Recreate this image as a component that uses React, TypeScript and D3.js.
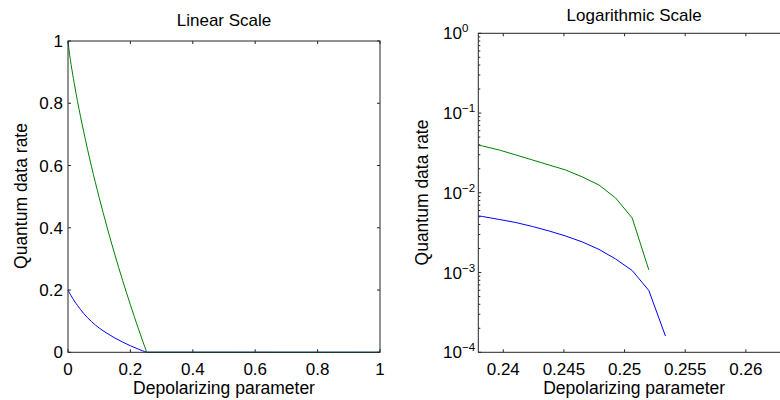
import React from "react";
import * as d3 from "d3";

// Linear-scale panel data
const pLin = [0, 0.005, 0.01, 0.02, 0.03, 0.05, 0.075, 0.1, 0.125, 0.15, 0.175, 0.2, 0.225, 0.2383, 0.2452, 0.25, 0.2524, 0.2534, 1];
const greenLin = [1, 0.958, 0.924, 0.864, 0.809, 0.71, 0.598, 0.497, 0.4025, 0.3143, 0.2311, 0.1525, 0.0776, 0.0394, 0.0198, 0.0068, 0, 0, 0];
const blueLin = [0.2, 0.19, 0.182, 0.165, 0.151, 0.125, 0.099, 0.078, 0.061, 0.046, 0.033, 0.021, 0.0105, 0.00504, 0.00287, 0.0012, 0.0006, 0.00016, 0];

// Logarithmic-scale panel data
const pLog = [0.23693, 0.2383, 0.23967, 0.24104, 0.24241, 0.24378, 0.24515, 0.24652, 0.24789, 0.24926, 0.25063, 0.252, 0.25337];
const greenLog: (number | null)[] = [0.0425, 0.0386, 0.0344, 0.0298, 0.0258, 0.0223, 0.0193, 0.0158, 0.01253, 0.00861, 0.00483, 0.00108, null];
const blueLog: (number | null)[] = [0.0054, 0.00504, 0.00463, 0.00424, 0.00378, 0.00332, 0.00287, 0.00242, 0.00195, 0.00148, 0.00106, 0.000596, 0.00016];

const linTicks = [0, 0.2, 0.4, 0.6, 0.8, 1];
const logXTicks = [0.24, 0.245, 0.25, 0.255, 0.26];
const logYExps = [0, -1, -2, -3, -4];

const GREEN = "#008000";
const BLUE = "#0000ff";
const AXIS = "#262626";
const FONT = "'Liberation Sans', Arial, Helvetica, sans-serif";
const TICK_FS = 17;
const LABEL_FS = 17.5;
const TITLE_FS = 17;

export default function App() {
  // left panel geometry
  const L = { l: 68, r: 380, t: 41, b: 352.3 };
  const xL = d3.scaleLinear().domain([0, 1]).range([L.l, L.r]);
  const yL = d3.scaleLinear().domain([0, 1]).range([L.b, L.t]);

  // right panel geometry
  const R = { l: 478.3, r: 790, t: 33.3, b: 352.3 };
  const xR = d3.scaleLinear().domain([0.23794, 0.26364]).range([R.l, R.r]);
  const yR = d3.scaleLog().domain([1e-4, 1]).range([R.b, R.t]);

  const linLine = (vals: number[]) =>
    d3
      .line<number>()
      .x((_, i) => xL(pLin[i]))
      .y((d) => yL(d))
      .curve(d3.curveMonotoneX)(vals) || "";

  const logLine = (vals: (number | null)[]) =>
    d3
      .line<number | null>()
      .defined((d) => d != null && d > 0)
      .x((_, i) => xR(pLog[i]))
      .y((d) => yR(d as number))(vals) || "";

  const tl = 3;
  const minor: number[] = [];
  for (let e = -4; e < 0; e++) {
    for (let m = 2; m <= 9; m++) minor.push(m * Math.pow(10, e));
  }

  return (
    <svg width={780} height={400} style={{ position: "absolute", left: 0, top: 0, background: "#fff" }} fontFamily={FONT}>
      <rect x={0} y={0} width={780} height={400} fill="#fff" />
      <defs>
        <clipPath id="clipR">
          <rect x={R.l} y={R.t} width={R.r - R.l} height={R.b - R.t} />
        </clipPath>
      </defs>

      {/* ---------- Left panel ---------- */}
      <text x={(L.l + L.r) / 2} y={26} textAnchor="middle" fontSize={TITLE_FS} fill="#000">
        Linear Scale
      </text>
      {linTicks.map((t) => (
        <g key={"lx" + t}>
          <line x1={xL(t)} x2={xL(t)} y1={L.b} y2={L.b - tl} stroke={AXIS} />
          <line x1={xL(t)} x2={xL(t)} y1={L.t} y2={L.t + tl} stroke={AXIS} />
          <text x={xL(t)} y={374.5} textAnchor="middle" fontSize={TICK_FS}>
            {String(t)}
          </text>
          <line y1={yL(t)} y2={yL(t)} x1={L.l} x2={L.l + tl} stroke={AXIS} />
          <line y1={yL(t)} y2={yL(t)} x1={L.r} x2={L.r - tl} stroke={AXIS} />
          <text x={63} y={yL(t) + 6} textAnchor="end" fontSize={TICK_FS}>
            {String(t)}
          </text>
        </g>
      ))}
      <path d={linLine(blueLin)} fill="none" stroke={BLUE} strokeWidth={1} />
      <path d={linLine(greenLin)} fill="none" stroke={GREEN} strokeWidth={1} />
      <rect x={L.l} y={L.t} width={L.r - L.l} height={L.b - L.t} fill="none" stroke={AXIS} strokeWidth={1} />
      <text x={(L.l + L.r) / 2} y={393.5} textAnchor="middle" fontSize={LABEL_FS}>
        Depolarizing parameter
      </text>
      <text transform={`translate(27,196) rotate(-90)`} textAnchor="middle" fontSize={LABEL_FS}>
        Quantum data rate
      </text>

      {/* ---------- Right panel ---------- */}
      <text x={(R.l + R.r) / 2} y={20.7} textAnchor="middle" fontSize={TITLE_FS} fill="#000">
        Logarithmic Scale
      </text>
      {logXTicks.map((t) => (
        <g key={"rx" + t}>
          <line x1={xR(t)} x2={xR(t)} y1={R.b} y2={R.b - tl} stroke={AXIS} />
          <line x1={xR(t)} x2={xR(t)} y1={R.t} y2={R.t + tl} stroke={AXIS} />
          <text x={xR(t)} y={374.5} textAnchor="middle" fontSize={TICK_FS}>
            {String(t)}
          </text>
        </g>
      ))}
      {minor.map((v, i) => (
        <line key={"mn" + i} y1={yR(v)} y2={yR(v)} x1={R.l} x2={R.l + 2} stroke={AXIS} />
      ))}
      {logYExps.map((e) => {
        const y = yR(Math.pow(10, e));
        return (
          <g key={"ry" + e}>
            <line y1={y} y2={y} x1={R.l} x2={R.l + tl} stroke={AXIS} />
            <text x={443} y={y + 6} fontSize={TICK_FS}>
              10
              <tspan dy={-7} fontSize={11.5}>
                {e === 0 ? "0" : "\u2212" + Math.abs(e)}
              </tspan>
            </text>
          </g>
        );
      })}
      <g clipPath="url(#clipR)">
        <path d={logLine(greenLog)} fill="none" stroke={GREEN} strokeWidth={1} />
        <path d={logLine(blueLog)} fill="none" stroke={BLUE} strokeWidth={1} />
      </g>
      <rect x={R.l} y={R.t} width={R.r - R.l} height={R.b - R.t} fill="none" stroke={AXIS} strokeWidth={1} />
      <text x={(R.l + R.r) / 2} y={394} textAnchor="middle" fontSize={LABEL_FS}>
        Depolarizing parameter
      </text>
      <text transform={`translate(428,192.5) rotate(-90)`} textAnchor="middle" fontSize={LABEL_FS}>
        Quantum data rate
      </text>
    </svg>
  );
}
